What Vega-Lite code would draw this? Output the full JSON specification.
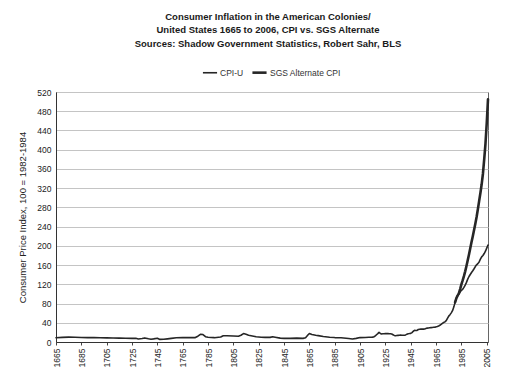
{
  "$schema": "https://vega.github.io/schema/vega-lite/v6.json",
  "width": 432,
  "height": 250,
  "autosize": "none",
  "padding": {"left": 56, "top": 92, "right": 20, "bottom": 42},
  "background": "white",
  "title": {
    "text": ["Consumer Inflation in the American Colonies/", "United States 1665 to 2006, CPI vs. SGS Alternate", "Sources: Shadow Government Statistics, Robert Sahr, BLS"],
    "font": "Liberation Sans",
    "fontSize": 9.5,
    "fontWeight": "bold",
    "lineHeight": 13.5,
    "color": "#1a1a1a",
    "anchor": "middle",
    "offset": 16,
    "dx": -4
  },
  "data": {
    "values": [
      {"year": 1665, "series": "CPI-U", "value": 8.9},
      {"year": 1670, "series": "CPI-U", "value": 9.6},
      {"year": 1675, "series": "CPI-U", "value": 10.2},
      {"year": 1680, "series": "CPI-U", "value": 9.8},
      {"year": 1685, "series": "CPI-U", "value": 9.5},
      {"year": 1690, "series": "CPI-U", "value": 9.2},
      {"year": 1695, "series": "CPI-U", "value": 9.0},
      {"year": 1700, "series": "CPI-U", "value": 8.8},
      {"year": 1705, "series": "CPI-U", "value": 8.5},
      {"year": 1710, "series": "CPI-U", "value": 8.4},
      {"year": 1715, "series": "CPI-U", "value": 8.1},
      {"year": 1720, "series": "CPI-U", "value": 7.8},
      {"year": 1725, "series": "CPI-U", "value": 7.5},
      {"year": 1728, "series": "CPI-U", "value": 7.8},
      {"year": 1730, "series": "CPI-U", "value": 6.4},
      {"year": 1733, "series": "CPI-U", "value": 7.2},
      {"year": 1735, "series": "CPI-U", "value": 8.5},
      {"year": 1738, "series": "CPI-U", "value": 6.8},
      {"year": 1740, "series": "CPI-U", "value": 5.8},
      {"year": 1742, "series": "CPI-U", "value": 6.5},
      {"year": 1745, "series": "CPI-U", "value": 7.9},
      {"year": 1747, "series": "CPI-U", "value": 5.4},
      {"year": 1750, "series": "CPI-U", "value": 5.6},
      {"year": 1753, "series": "CPI-U", "value": 6.5},
      {"year": 1756, "series": "CPI-U", "value": 7.5},
      {"year": 1760, "series": "CPI-U", "value": 8.8},
      {"year": 1765, "series": "CPI-U", "value": 9.0},
      {"year": 1770, "series": "CPI-U", "value": 9.0},
      {"year": 1775, "series": "CPI-U", "value": 9.2},
      {"year": 1777, "series": "CPI-U", "value": 12},
      {"year": 1779, "series": "CPI-U", "value": 16},
      {"year": 1781, "series": "CPI-U", "value": 15.5},
      {"year": 1783, "series": "CPI-U", "value": 11},
      {"year": 1785, "series": "CPI-U", "value": 9.8},
      {"year": 1790, "series": "CPI-U", "value": 9.0},
      {"year": 1795, "series": "CPI-U", "value": 10.5},
      {"year": 1797, "series": "CPI-U", "value": 13},
      {"year": 1800, "series": "CPI-U", "value": 13},
      {"year": 1805, "series": "CPI-U", "value": 12.5},
      {"year": 1809, "series": "CPI-U", "value": 12},
      {"year": 1811, "series": "CPI-U", "value": 14},
      {"year": 1813, "series": "CPI-U", "value": 17.5},
      {"year": 1815, "series": "CPI-U", "value": 16},
      {"year": 1817, "series": "CPI-U", "value": 14},
      {"year": 1820, "series": "CPI-U", "value": 12.6},
      {"year": 1823, "series": "CPI-U", "value": 11},
      {"year": 1827, "series": "CPI-U", "value": 10},
      {"year": 1830, "series": "CPI-U", "value": 9.6},
      {"year": 1834, "series": "CPI-U", "value": 9.6},
      {"year": 1836, "series": "CPI-U", "value": 11},
      {"year": 1838, "series": "CPI-U", "value": 10},
      {"year": 1842, "series": "CPI-U", "value": 8},
      {"year": 1845, "series": "CPI-U", "value": 7.5},
      {"year": 1850, "series": "CPI-U", "value": 7.6},
      {"year": 1855, "series": "CPI-U", "value": 8},
      {"year": 1860, "series": "CPI-U", "value": 7.5},
      {"year": 1862, "series": "CPI-U", "value": 9},
      {"year": 1864, "series": "CPI-U", "value": 15},
      {"year": 1865, "series": "CPI-U", "value": 17.5},
      {"year": 1867, "series": "CPI-U", "value": 15.5},
      {"year": 1870, "series": "CPI-U", "value": 14},
      {"year": 1872, "series": "CPI-U", "value": 13.3},
      {"year": 1876, "series": "CPI-U", "value": 11.5},
      {"year": 1881, "series": "CPI-U", "value": 10},
      {"year": 1885, "series": "CPI-U", "value": 9.2},
      {"year": 1890, "series": "CPI-U", "value": 8.8},
      {"year": 1892, "series": "CPI-U", "value": 8.3},
      {"year": 1896, "series": "CPI-U", "value": 7.2},
      {"year": 1899, "series": "CPI-U", "value": 6.4},
      {"year": 1902, "series": "CPI-U", "value": 7.5},
      {"year": 1905, "series": "CPI-U", "value": 9.2},
      {"year": 1909, "series": "CPI-U", "value": 9.5},
      {"year": 1912, "series": "CPI-U", "value": 9.8},
      {"year": 1913, "series": "CPI-U", "value": 9.9},
      {"year": 1914, "series": "CPI-U", "value": 10.0},
      {"year": 1915, "series": "CPI-U", "value": 10.1},
      {"year": 1916, "series": "CPI-U", "value": 10.9},
      {"year": 1917, "series": "CPI-U", "value": 12.8},
      {"year": 1918, "series": "CPI-U", "value": 15.1},
      {"year": 1919, "series": "CPI-U", "value": 17.3},
      {"year": 1920, "series": "CPI-U", "value": 20.0},
      {"year": 1921, "series": "CPI-U", "value": 17.9},
      {"year": 1922, "series": "CPI-U", "value": 16.8},
      {"year": 1923, "series": "CPI-U", "value": 17.1},
      {"year": 1924, "series": "CPI-U", "value": 17.1},
      {"year": 1925, "series": "CPI-U", "value": 17.5},
      {"year": 1926, "series": "CPI-U", "value": 17.7},
      {"year": 1927, "series": "CPI-U", "value": 17.4},
      {"year": 1928, "series": "CPI-U", "value": 17.1},
      {"year": 1929, "series": "CPI-U", "value": 17.1},
      {"year": 1930, "series": "CPI-U", "value": 16.7},
      {"year": 1931, "series": "CPI-U", "value": 15.2},
      {"year": 1932, "series": "CPI-U", "value": 13.7},
      {"year": 1933, "series": "CPI-U", "value": 13.0},
      {"year": 1934, "series": "CPI-U", "value": 13.4},
      {"year": 1935, "series": "CPI-U", "value": 13.7},
      {"year": 1936, "series": "CPI-U", "value": 13.9},
      {"year": 1937, "series": "CPI-U", "value": 14.4},
      {"year": 1938, "series": "CPI-U", "value": 14.1},
      {"year": 1939, "series": "CPI-U", "value": 13.9},
      {"year": 1940, "series": "CPI-U", "value": 14.0},
      {"year": 1941, "series": "CPI-U", "value": 14.7},
      {"year": 1942, "series": "CPI-U", "value": 16.3},
      {"year": 1943, "series": "CPI-U", "value": 17.3},
      {"year": 1944, "series": "CPI-U", "value": 17.6},
      {"year": 1945, "series": "CPI-U", "value": 18.0},
      {"year": 1946, "series": "CPI-U", "value": 19.5},
      {"year": 1947, "series": "CPI-U", "value": 22.3},
      {"year": 1948, "series": "CPI-U", "value": 24.1},
      {"year": 1949, "series": "CPI-U", "value": 23.8},
      {"year": 1950, "series": "CPI-U", "value": 24.1},
      {"year": 1951, "series": "CPI-U", "value": 26.0},
      {"year": 1952, "series": "CPI-U", "value": 26.5},
      {"year": 1953, "series": "CPI-U", "value": 26.7},
      {"year": 1954, "series": "CPI-U", "value": 26.9},
      {"year": 1955, "series": "CPI-U", "value": 26.8},
      {"year": 1956, "series": "CPI-U", "value": 27.2},
      {"year": 1957, "series": "CPI-U", "value": 28.1},
      {"year": 1958, "series": "CPI-U", "value": 28.9},
      {"year": 1959, "series": "CPI-U", "value": 29.1},
      {"year": 1960, "series": "CPI-U", "value": 29.6},
      {"year": 1961, "series": "CPI-U", "value": 29.9},
      {"year": 1962, "series": "CPI-U", "value": 30.2},
      {"year": 1963, "series": "CPI-U", "value": 30.6},
      {"year": 1964, "series": "CPI-U", "value": 31.0},
      {"year": 1965, "series": "CPI-U", "value": 31.5},
      {"year": 1966, "series": "CPI-U", "value": 32.4},
      {"year": 1967, "series": "CPI-U", "value": 33.4},
      {"year": 1968, "series": "CPI-U", "value": 34.8},
      {"year": 1969, "series": "CPI-U", "value": 36.7},
      {"year": 1970, "series": "CPI-U", "value": 38.8},
      {"year": 1971, "series": "CPI-U", "value": 40.5},
      {"year": 1972, "series": "CPI-U", "value": 41.8},
      {"year": 1973, "series": "CPI-U", "value": 44.4},
      {"year": 1974, "series": "CPI-U", "value": 49.3},
      {"year": 1975, "series": "CPI-U", "value": 53.8},
      {"year": 1976, "series": "CPI-U", "value": 56.9},
      {"year": 1977, "series": "CPI-U", "value": 60.6},
      {"year": 1978, "series": "CPI-U", "value": 65.2},
      {"year": 1979, "series": "CPI-U", "value": 72.6},
      {"year": 1980, "series": "CPI-U", "value": 82.4},
      {"year": 1981, "series": "CPI-U", "value": 90.9},
      {"year": 1982, "series": "CPI-U", "value": 96.5},
      {"year": 1983, "series": "CPI-U", "value": 99.6},
      {"year": 1984, "series": "CPI-U", "value": 103.9},
      {"year": 1985, "series": "CPI-U", "value": 107.6},
      {"year": 1986, "series": "CPI-U", "value": 109.6},
      {"year": 1987, "series": "CPI-U", "value": 113.6},
      {"year": 1988, "series": "CPI-U", "value": 118.3},
      {"year": 1989, "series": "CPI-U", "value": 124.0},
      {"year": 1990, "series": "CPI-U", "value": 130.7},
      {"year": 1991, "series": "CPI-U", "value": 136.2},
      {"year": 1992, "series": "CPI-U", "value": 140.3},
      {"year": 1993, "series": "CPI-U", "value": 144.5},
      {"year": 1994, "series": "CPI-U", "value": 148.2},
      {"year": 1995, "series": "CPI-U", "value": 152.4},
      {"year": 1996, "series": "CPI-U", "value": 156.9},
      {"year": 1997, "series": "CPI-U", "value": 160.5},
      {"year": 1998, "series": "CPI-U", "value": 163.0},
      {"year": 1999, "series": "CPI-U", "value": 166.6},
      {"year": 2000, "series": "CPI-U", "value": 172.2},
      {"year": 2001, "series": "CPI-U", "value": 177.1},
      {"year": 2002, "series": "CPI-U", "value": 179.9},
      {"year": 2003, "series": "CPI-U", "value": 184.0},
      {"year": 2004, "series": "CPI-U", "value": 188.9},
      {"year": 2005, "series": "CPI-U", "value": 195.3},
      {"year": 2006, "series": "CPI-U", "value": 201.6},
      {"year": 1980, "series": "SGS Alternate CPI", "value": 82.4},
      {"year": 1981, "series": "SGS Alternate CPI", "value": 90.9},
      {"year": 1982, "series": "SGS Alternate CPI", "value": 96.5},
      {"year": 1983, "series": "SGS Alternate CPI", "value": 101},
      {"year": 1984, "series": "SGS Alternate CPI", "value": 110},
      {"year": 1985, "series": "SGS Alternate CPI", "value": 120},
      {"year": 1986, "series": "SGS Alternate CPI", "value": 128},
      {"year": 1987, "series": "SGS Alternate CPI", "value": 137},
      {"year": 1988, "series": "SGS Alternate CPI", "value": 147},
      {"year": 1989, "series": "SGS Alternate CPI", "value": 158},
      {"year": 1990, "series": "SGS Alternate CPI", "value": 170},
      {"year": 1991, "series": "SGS Alternate CPI", "value": 182},
      {"year": 1992, "series": "SGS Alternate CPI", "value": 195},
      {"year": 1993, "series": "SGS Alternate CPI", "value": 208},
      {"year": 1994, "series": "SGS Alternate CPI", "value": 220},
      {"year": 1995, "series": "SGS Alternate CPI", "value": 233},
      {"year": 1996, "series": "SGS Alternate CPI", "value": 246},
      {"year": 1997, "series": "SGS Alternate CPI", "value": 260},
      {"year": 1998, "series": "SGS Alternate CPI", "value": 276},
      {"year": 1999, "series": "SGS Alternate CPI", "value": 293},
      {"year": 2000, "series": "SGS Alternate CPI", "value": 310},
      {"year": 2001, "series": "SGS Alternate CPI", "value": 328},
      {"year": 2002, "series": "SGS Alternate CPI", "value": 350},
      {"year": 2003, "series": "SGS Alternate CPI", "value": 380},
      {"year": 2004, "series": "SGS Alternate CPI", "value": 412},
      {"year": 2005, "series": "SGS Alternate CPI", "value": 455},
      {"year": 2006, "series": "SGS Alternate CPI", "value": 505}
    ]
  },
  "mark": {"type": "line", "strokeJoin": "round", "strokeCap": "round"},
  "encoding": {
    "x": {
      "field": "year",
      "type": "quantitative",
      "scale": {"domain": [1665, 2006], "nice": false, "zero": false},
      "axis": {
        "title": null,
        "values": [1665, 1685, 1705, 1725, 1745, 1765, 1785, 1805, 1825, 1845, 1865, 1885, 1905, 1925, 1945, 1965, 1985, 2005],
        "format": "d",
        "labelAngle": 270,
        "labelAlign": "right",
        "labelBaseline": "middle",
        "labelPadding": 3,
        "labelFont": "Liberation Sans",
        "labelFontSize": 8.5,
        "labelColor": "#222",
        "grid": false,
        "ticks": true,
        "tickSize": 3,
        "tickColor": "#444",
        "domainColor": "#333",
        "labelOverlap": false,
        "labelFlush": false
      }
    },
    "y": {
      "field": "value",
      "type": "quantitative",
      "scale": {"domain": [0, 520], "nice": false},
      "axis": {
        "title": "Consumer Price Index, 100 = 1982-1984",
        "titleFont": "Liberation Sans",
        "titleFontSize": 9.5,
        "titleFontWeight": "normal",
        "titleColor": "#222",
        "titlePadding": 9,
        "values": [0, 40, 80, 120, 160, 200, 240, 280, 320, 360, 400, 440, 480, 520],
        "labelFont": "Liberation Sans",
        "labelFontSize": 8.5,
        "labelColor": "#222",
        "labelPadding": 5,
        "ticks": false,
        "grid": true,
        "gridColor": "#c4c4c4",
        "gridWidth": 1,
        "domainColor": "#333"
      }
    },
    "color": {
      "field": "series",
      "type": "nominal",
      "scale": {"domain": ["CPI-U", "SGS Alternate CPI"], "range": ["#262626", "#262626"]},
      "legend": {
        "title": null,
        "orient": "none",
        "legendX": 146,
        "legendY": -28,
        "direction": "horizontal",
        "symbolType": "stroke",
        "symbolSize": 200,
        "labelFont": "Liberation Sans",
        "labelFontSize": 8.5,
        "labelColor": "#333",
        "columnPadding": 3,
        "labelOffset": 2
      }
    },
    "strokeWidth": {
      "field": "series",
      "type": "nominal",
      "scale": {"domain": ["CPI-U", "SGS Alternate CPI"], "range": [1.6, 2.6]},
      "legend": null
    }
  },
  "config": {
    "view": {"stroke": "#666", "strokeWidth": 1}
  }
}
